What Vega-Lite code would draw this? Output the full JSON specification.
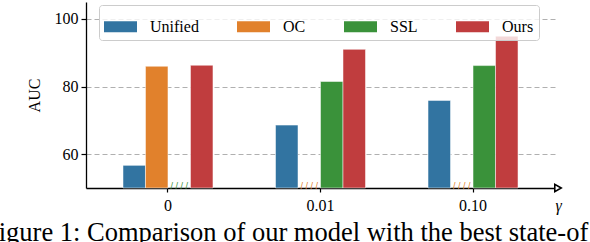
{
  "$schema": "https://vega.github.io/schema/vega-lite/v6.json",
  "autosize": "none",
  "padding": {"left": 86, "top": 2, "right": 35, "bottom": 54},
  "width": 469,
  "height": 186,
  "config": {
    "view": {"stroke": null},
    "font": "Liberation Serif"
  },
  "title": {
    "text": "Figure 1: Comparison of our model with the best state-of",
    "orient": "bottom",
    "anchor": "start",
    "frame": "group",
    "font": "Liberation Serif",
    "fontSize": 26.5,
    "fontWeight": "normal",
    "color": "black",
    "baseline": "alphabetic",
    "dx": -102,
    "offset": 28
  },
  "data": {
    "values": [
      {"gamma": "0", "method": "Unified", "AUC": 56.7, "missing": false},
      {"gamma": "0", "method": "OC", "AUC": 86.0, "missing": false},
      {"gamma": "0", "method": "SSL", "AUC": null, "missing": true},
      {"gamma": "0", "method": "Ours", "AUC": 86.3, "missing": false},
      {"gamma": "0.01", "method": "Unified", "AUC": 68.6, "missing": false},
      {"gamma": "0.01", "method": "OC", "AUC": null, "missing": true},
      {"gamma": "0.01", "method": "SSL", "AUC": 81.5, "missing": false},
      {"gamma": "0.01", "method": "Ours", "AUC": 91.0, "missing": false},
      {"gamma": "0.10", "method": "Unified", "AUC": 75.9, "missing": false},
      {"gamma": "0.10", "method": "OC", "AUC": null, "missing": true},
      {"gamma": "0.10", "method": "SSL", "AUC": 86.2, "missing": false},
      {"gamma": "0.10", "method": "Ours", "AUC": 94.9, "missing": false}
    ]
  },
  "encoding": {
    "x": {
      "field": "gamma", "type": "nominal",
      "sort": ["0", "0.01", "0.10"],
      "scale": {"paddingInner": 0.41, "paddingOuter": 0.2425},
      "axis": {
        "labelAngle": 0, "labelFont": "Liberation Serif", "labelFontSize": 16, "labelColor": "black",
        "labelPadding": 5,
        "domainColor": "black", "domainWidth": 1.3, "tickColor": "black", "tickSize": 4, "tickWidth": 1.2,
        "title": "γ", "titleFont": "Liberation Serif", "titleFontSize": 16, "titleFontWeight": "normal",
        "titleFontStyle": "italic", "titleColor": "black",
        "titleAnchor": "end", "titleAlign": "left", "titleBaseline": "alphabetic", "titleY": 22
      }
    },
    "xOffset": {
      "field": "method", "type": "nominal",
      "scale": {"domain": ["Unified", "OC", "SSL", "Ours"], "paddingInner": 0, "paddingOuter": 0}
    },
    "color": {
      "field": "method", "type": "nominal",
      "scale": {"domain": ["Unified", "OC", "SSL", "Ours"], "range": ["#3274a1", "#e1812c", "#3a923a", "#c03d3e"]},
      "legend": {
        "title": null, "orient": "none", "legendX": 13, "legendY": 3,
        "direction": "horizontal", "columns": 4,
        "symbolType": "M-1,-0.34H1V0.34H-1Z", "symbolSize": 1089, "symbolStrokeWidth": 0, "symbolOpacity": 1,
        "labelFont": "Liberation Serif", "labelFontSize": 16, "labelColor": "black", "labelOffset": 13,
        "columnPadding": 38, "padding": 5,
        "strokeColor": "#cccccc", "fillColor": "rgba(255,255,255,0.8)", "cornerRadius": 3
      }
    }
  },
  "layer": [
    {
      "transform": [{"filter": "datum.missing == false"}],
      "mark": {"type": "bar", "stroke": "white", "strokeWidth": 0.5},
      "encoding": {
        "y": {
          "field": "AUC", "type": "quantitative",
          "scale": {"domain": [50, 105], "zero": false, "nice": false},
          "axis": {
            "values": [60, 80, 100],
            "labelFont": "Liberation Serif", "labelFontSize": 16, "labelColor": "black", "labelPadding": 3,
            "domainColor": "black", "domainWidth": 1.3, "tickColor": "black", "tickSize": 5, "tickWidth": 1.2,
            "grid": true, "gridColor": "#b0b0b0", "gridDash": [5, 3], "gridWidth": 1,
            "title": "AUC", "titleFont": "Liberation Serif", "titleFontSize": 16, "titleFontWeight": "normal",
            "titleColor": "black", "titlePadding": 12
          }
        },
        "y2": {"datum": 50}
      }
    },
    {
      "transform": [{"filter": "datum.missing == true"}],
      "mark": {"type": "text", "text": "/ / / /", "font": "Liberation Sans", "fontSize": 9, "baseline": "alphabetic", "dy": 1},
      "encoding": {
        "y": {"datum": 50, "type": "quantitative"},
        "color": {"field": "method", "type": "nominal", "legend": null}
      }
    },
    {
      "data": {"values": [{"end": "arrow"}]},
      "mark": {"type": "point", "shape": "triangle-right", "size": 55, "filled": true, "fill": "white", "stroke": "black", "strokeWidth": 1.6, "opacity": 1, "xOffset": 3},
      "encoding": {
        "x": {"value": "width"},
        "y": {"value": "height"},
        "xOffset": null,
        "color": null
      }
    }
  ]
}
